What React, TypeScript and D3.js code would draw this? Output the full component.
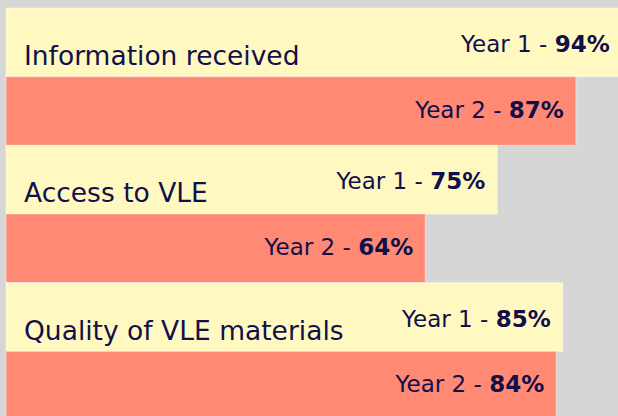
import React from "react";
import * as d3 from "d3";

const categories = ["Information received", "Access to VLE", "Quality of VLE materials"];
const seriesNames = ["Year 1", "Year 2"];
const year1 = [94, 75, 85];
const year2 = [87, 64, 84];

const W = 618;
const H = 416;
const FONT = "'DejaVu Sans', sans-serif";

export default function App() {
  const rows: { key: string; series: number; cat: number; value: number }[] = [];
  categories.forEach((c, i) => {
    rows.push({ key: `${i}-0`, series: 0, cat: i, value: year1[i] });
    rows.push({ key: `${i}-1`, series: 1, cat: i, value: year2[i] });
  });

  const x = d3.scaleLinear().domain([0, 100]).range([6, 661]);
  const y = d3
    .scaleBand<string>()
    .domain(rows.map((r) => r.key))
    .range([8, 420])
    .padding(0);

  const colors = ["#fff9c1", "#ff8973"];
  const textColor = "#11104a";

  return (
    <div style={{ position: "fixed", left: 0, top: 0, width: W, height: H }}>
      <svg width={W} height={H} style={{ display: "block" }}>
        <rect x={0} y={0} width={W} height={H} fill="#d6d6d6" />
        {rows.map((r) => {
          const y0 = y(r.key)!;
          const bw = y.bandwidth();
          return (
            <rect
              key={"b" + r.key}
              x={x(0)}
              y={y0}
              width={x(r.value) - x(0)}
              height={bw}
              fill={colors[r.series]}
              stroke="rgba(255,255,255,0.45)"
              strokeWidth={1}
            />
          );
        })}
        {rows.map((r) => {
          const y0 = y(r.key)!;
          const baseline = r.series === 0 ? y0 + 44 : y0 + 41;
          return (
            <text
              key={"l" + r.key}
              x={x(r.value) - 12}
              y={baseline}
              textAnchor="end"
              fontFamily={FONT}
              fontSize={23}
              fill={textColor}
            >
              {seriesNames[r.series]} -{" "}
              <tspan fontWeight={700}>{r.value}%</tspan>
            </text>
          );
        })}
        {categories.map((c, i) => {
          const y0 = y(`${i}-0`)!;
          return (
            <text
              key={"c" + i}
              x={24}
              y={y0 + 57}
              fontFamily={FONT}
              fontSize={26.5}
              fill={textColor}
            >
              {c}
            </text>
          );
        })}
      </svg>
    </div>
  );
}
